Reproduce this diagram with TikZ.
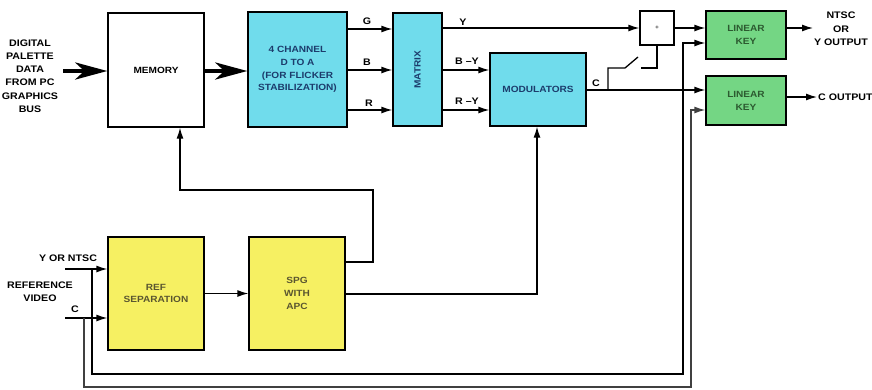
\documentclass[tikz,border=0pt]{standalone}
\usepackage{fontspec}
\setmainfont{Liberation Sans}[FakeStretch=1.12]
\usetikzlibrary{arrows.meta}
\definecolor{cyanbox}{HTML}{70DCEC}
\definecolor{yelbox}{HTML}{F6F062}
\definecolor{grnbox}{HTML}{74D684}
\definecolor{cyantxt}{HTML}{1C3C6C}
\definecolor{yeltxt}{HTML}{5A5630}
\definecolor{grntxt}{HTML}{2C5A30}
\tikzset{
  blk/.style={draw=black, line width=1.3pt, inner sep=0pt, align=center,
    font=\fontsize{9}{12.8}\selectfont\bfseries},
  cyanblk/.style={blk, fill=cyanbox, text=cyantxt},
  yelblk/.style={blk, fill=yelbox, text=yeltxt},
  grnblk/.style={blk, fill=grnbox, text=grntxt},
  whtblk/.style={blk, fill=white},
  lbl/.style={inner sep=0pt, align=center, font=\fontsize{9.5}{13.3}\selectfont\bfseries},
  wire/.style={line width=1.3pt},
  arr/.style={wire, -{Latex[length=11pt,width=7pt]}},
  bigarr/.style={line width=4.5pt, -{Stealth[length=32pt,width=17pt,inset=9pt]}},
}
\begin{document}
\begin{tikzpicture}[x=1pt,y=-1pt]
\useasboundingbox (0,0) rectangle (872,389);
% boxes
\node[whtblk, minimum width=96pt, minimum height=114pt] (mem) at (156,70) {MEMORY};
\node[cyanblk, minimum width=99pt, minimum height=115pt] (da) at (297.5,69.5)
  {4 CHANNEL\\D TO A\\(FOR FLICKER\\STABILIZATION)};
\node[cyanblk, minimum width=49pt, minimum height=113pt] (mat) at (417.5,69.5) {\rotatebox{90}{MATRIX}};
\node[cyanblk, minimum width=96pt, minimum height=73pt] (mod) at (538,89.5) {MODULATORS};
\node[whtblk, minimum width=34pt, minimum height=34pt, font=\fontsize{6}{6}\selectfont] (plus) at (657,28) {+};
\node[grnblk, minimum width=80pt, minimum height=48pt] (lk1) at (746,35) {LINEAR\\KEY};
\node[grnblk, minimum width=80pt, minimum height=49pt] (lk2) at (746,100.5) {LINEAR\\KEY};
\node[yelblk, minimum width=96pt, minimum height=113pt] (ref) at (156,293.5) {REF\\SEPARATION};
\node[yelblk, minimum width=96pt, minimum height=113pt] (spg) at (297,293.5) {SPG\\WITH\\APC};
% labels
\node[lbl] (lin) at (30,76) {DIGITAL\\PALETTE\\DATA\\FROM PC\\GRAPHICS\\BUS};
\node[lbl] (lg) at (367,21) {G};
\node[lbl] (lb) at (367,62) {B};
\node[lbl] (lr) at (369,103) {R};
\node[lbl] (ly) at (463,22) {Y};
\node[lbl] (lby) at (467,61) {B --Y};
\node[lbl] (lry) at (467,101) {R --Y};
\node[lbl] (lc) at (596,83) {C};
\node[lbl] (lout1) at (841,29) {NTSC\\OR\\Y OUTPUT};
\node[lbl, anchor=west] (lout2) at (818,97) {C OUTPUT};
\node[lbl] (lyn) at (68,258) {Y OR NTSC};
\node[lbl] (lrv) at (40,292) {REFERENCE\\VIDEO};
\node[lbl] (lcin) at (75,309) {C};
% coordinates
\coordinate (in) at (63,71);
\coordinate (yG) at (0,29);
\coordinate (yB) at (0,70);
\coordinate (yR) at (0,110);
\coordinate (yC) at (0,90);
\coordinate (yK1) at (0,43);
\coordinate (yK2) at (0,110);
\coordinate (jC) at (608,90);
\coordinate (sw1) at (625,68);
\coordinate (sw2) at (638,57);
\coordinate (sw3) at (641,68);
\coordinate (out1) at (813,28);
\coordinate (out2) at (817,97);
\coordinate (inY) at (65,269);
\coordinate (inC) at (65,318);
\coordinate (jY) at (92,269);
\coordinate (jCin) at (84,318);
\coordinate (c1) at (683,374);
\coordinate (c2) at (691,387);
\coordinate (fb1) at (373,262);
\coordinate (fb2) at (373,190);
\coordinate (fb3) at (180,190);
\coordinate (mx) at (537,294);
% big arrows
\draw[bigarr] (in) -- (mem.west |- in);
\draw[bigarr] (mem.east |- in) -- (da.west |- in);
% D/A to matrix
\draw[arr] (da.east |- yG) -- (mat.west |- yG);
\draw[arr] (da.east |- yB) -- (mat.west |- yB);
\draw[arr] (da.east |- yR) -- (mat.west |- yR);
% matrix outputs
\draw[arr] (mat.east |- plus.west) -- (plus.west);
\draw[arr] (mat.east |- yB) -- (mod.west |- yB);
\draw[arr] (mat.east |- yR) -- (mod.west |- yR);
% C and switch
\draw[arr] (mod.east |- yC) -- (lk2.west |- yC);
\draw[wire] (jC) |- (sw1) -- (sw2);
\draw[wire] (sw3) -| (plus.south);
% to linear keys
\draw[arr] (plus.east) -- (lk1.west |- plus.east);
\draw[arr] (lk1.east |- out1) -- (out1);
\draw[arr] (lk2.east |- out2) -- (out2);
% reference video inputs
\draw[arr] (inY) -- (ref.west |- inY);
\draw[arr] (inC) -- (ref.west |- inC);
\draw[arr] (jY) |- (c1) |- (lk1.west |- yK1);
\draw[arr, draw=black!75] (jCin) |- (c2) |- (lk2.west |- yK2);
% ref -> spg
\draw[arr] (ref.east) -- (spg.west);
% feedback to memory
\draw[arr] (spg.east |- fb1) -- (fb1) -- (fb2) -- (fb3) -- (mem.south -| fb3);
% spg -> modulators
\draw[arr] (spg.east |- mx) -- (mx) -- (mod.south -| mx);
\end{tikzpicture}
\end{document}
